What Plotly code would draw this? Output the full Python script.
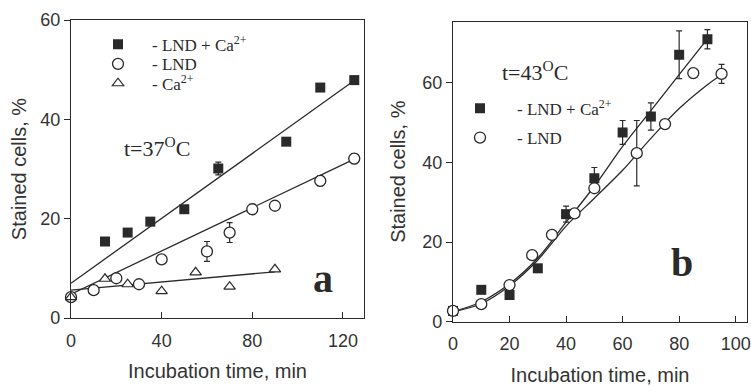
import plotly.graph_objects as go

# ---------------- Panel a (37 C) ----------------
a_sq_x = [15, 25, 35, 50, 65, 95, 110, 125]
a_sq_y = [15.4, 17.2, 19.4, 21.9, 30.1, 35.5, 46.4, 47.9]
a_sq_err = [0, 0, 0, 0, 1.3, 0, 0, 0]

a_ci_x = [0, 10, 20, 30, 40, 60, 70, 80, 90, 110, 125]
a_ci_y = [4.2, 5.6, 8.0, 6.8, 11.8, 13.4, 17.2, 21.9, 22.6, 27.6, 32.1]
a_ci_err = [0, 0, 0, 0, 0, 2.0, 2.0, 1.0, 0, 1.0, 1.0]

a_tr_x = [0, 15, 25, 40, 55, 70, 90]
a_tr_y = [4.2, 7.9, 6.8, 5.4, 9.2, 6.3, 9.8]

a_fit_sq_x = [0, 125]
a_fit_sq_y = [7.0, 47.8]
a_fit_ci_x = [0, 125]
a_fit_ci_y = [4.8, 32.0]
a_fit_tr_x = [0, 90]
a_fit_tr_y = [5.6, 9.3]

# ---------------- Panel b (43 C) ----------------
b_sq_x = [0, 10, 20, 30, 40, 50, 60, 70, 80, 90]
b_sq_y = [2.7, 8.0, 6.7, 13.4, 27.0, 36.0, 47.5, 51.5, 67.0, 70.9]
b_sq_err = [0, 0, 0, 0, 2.0, 2.7, 3.0, 3.4, 6.0, 2.4]

b_ci_x = [0, 10, 20, 28, 35, 43, 50, 65, 75, 85, 95]
b_ci_y = [2.7, 4.4, 9.2, 16.7, 21.8, 27.2, 33.5, 42.3, 49.6, 62.4, 62.2]
b_ci_err = [0, 0, 0, 0, 0, 0, 0, 8.2, 0, 0, 2.4]

b_fit_sq_x = [0, 10, 20, 30, 40, 50, 60, 70, 80, 90]
b_fit_sq_y = [2.5, 5.0, 9.5, 16.0, 25.0, 34.0, 44.0, 53.0, 62.0, 71.0]
b_fit_ci_x = [0, 10, 20, 30, 40, 50, 60, 70, 80, 90, 95]
b_fit_ci_y = [2.5, 4.5, 9.0, 15.5, 24.0, 31.0, 38.0, 46.0, 53.5, 59.5, 62.0]

INK = "#2a2a2a"
SERIF = "Liberation Serif, Times New Roman, serif"
SANS = "Liberation Sans, Arial, sans-serif"

fig = go.Figure()

def err(arr):
    return dict(type="data", array=arr, visible=True, color=INK, thickness=1.2, width=3)

SQ = dict(symbol="square", size=10, color=INK)
CI = dict(symbol="circle", size=11, color="white", line=dict(width=1.3, color=INK))
TR = dict(symbol="triangle-up", size=10, color="white", line=dict(width=1.2, color=INK))

# fits panel a
for fx, fy in [(a_fit_sq_x, a_fit_sq_y), (a_fit_ci_x, a_fit_ci_y), (a_fit_tr_x, a_fit_tr_y)]:
    fig.add_trace(go.Scatter(x=fx, y=fy, mode="lines", line=dict(color=INK, width=1.3),
                             showlegend=False, xaxis="x", yaxis="y", hoverinfo="skip"))
fig.add_trace(go.Scatter(x=a_sq_x, y=a_sq_y, mode="markers", name="- LND + Ca<sup>2+</sup>",
                         marker=SQ, error_y=err(a_sq_err), xaxis="x", yaxis="y",
                         legend="legend", cliponaxis=False))
fig.add_trace(go.Scatter(x=a_ci_x, y=a_ci_y, mode="markers", name="- LND",
                         marker=CI, error_y=err(a_ci_err), xaxis="x", yaxis="y",
                         legend="legend3", cliponaxis=False))
fig.add_trace(go.Scatter(x=a_tr_x, y=a_tr_y, mode="markers", name="- Ca<sup>2+</sup>",
                         marker=TR, xaxis="x", yaxis="y", legend="legend4", cliponaxis=False))

# fits panel b
for fx, fy in [(b_fit_sq_x, b_fit_sq_y), (b_fit_ci_x, b_fit_ci_y)]:
    fig.add_trace(go.Scatter(x=fx, y=fy, mode="lines", line=dict(color=INK, width=1.3, shape="spline"),
                             showlegend=False, xaxis="x2", yaxis="y2", hoverinfo="skip"))
fig.add_trace(go.Scatter(x=b_sq_x, y=b_sq_y, mode="markers", name="- LND + Ca<sup>2+</sup>",
                         marker=SQ, error_y=err(b_sq_err), xaxis="x2", yaxis="y2",
                         legend="legend2", cliponaxis=False))
fig.add_trace(go.Scatter(x=b_ci_x, y=b_ci_y, mode="markers", name="- LND",
                         marker=CI, error_y=err(b_ci_err), xaxis="x2", yaxis="y2",
                         legend="legend5", cliponaxis=False))

# page body margin is removed by the post script, so figure == viewport
W, H = 751, 386
def px(x): return x / W
def py(y): return 1 - y / H

TICKF = dict(family=SANS, size=18, color="#333")
TITLEF = dict(family=SANS, size=20, color="#333")
axis_common = dict(showline=True, linecolor=INK, linewidth=1.3, mirror=True, showgrid=False,
                   zeroline=False, tickcolor=INK, tickfont=TICKF, ticklabeloverflow="allow",
                   ticklen=6, tickwidth=1.2, automargin=False)

LEGF = dict(family=SERIF, size=17, color=INK)
def leg(xv, row_y, w):
    return dict(x=px(xv), y=py(row_y - 16), xanchor="left", yanchor="top",
                bgcolor="rgba(0,0,0,0)", font=LEGF, itemwidth=w)

fig.update_layout(
    template="none",
    width=W, height=H, margin=dict(l=0, r=0, t=0, b=0, pad=0),
    paper_bgcolor="white", plot_bgcolor="white",
    xaxis=dict(domain=[px(71), px(364)], range=[0, 129.3], anchor="y", ticks="inside",
               tickvals=[0, 40, 80, 120], ticklabelstandoff=6,
               title=dict(text="Incubation time, min", font=TITLEF, standoff=14),
               **axis_common),
    yaxis=dict(domain=[py(318), py(20)], range=[0, 60], anchor="x", ticks="outside",
               tickvals=[0, 20, 40, 60],
               title=dict(text="Stained cells, %", font=TITLEF, standoff=8),
               **axis_common),
    xaxis2=dict(domain=[px(453), px(747)], range=[0, 104], anchor="y2", ticks="inside",
                tickvals=[0, 20, 40, 60, 80, 100], ticklabelstandoff=6,
                title=dict(text="Incubation time, min", font=TITLEF, standoff=14),
                **axis_common),
    yaxis2=dict(domain=[py(321.7), py(21.7)], range=[0, 75.3], anchor="x2", ticks="outside",
                tickvals=[0, 20, 40, 60],
                title=dict(text="Stained cells, %", font=TITLEF, standoff=11),
                **axis_common),
    legend=leg(84, 42.7, 58),
    legend3=leg(84, 62.3, 58),
    legend4=leg(84, 81.7, 58),
    legend2=leg(443, 106.7, 64),
    legend5=leg(443, 136, 64),
    showlegend=True,
)

fig.add_annotation(text="t=37<sup>O</sup>C", x=px(122), y=py(147), xref="paper", yref="paper",
                   xanchor="left", yanchor="middle", showarrow=False,
                   font=dict(family=SERIF, size=22, color=INK))
fig.add_annotation(text="t=43<sup>O</sup>C", x=px(500), y=py(71), xref="paper", yref="paper",
                   xanchor="left", yanchor="middle", showarrow=False,
                   font=dict(family=SERIF, size=22, color=INK))
fig.add_annotation(text="<b>a</b>", x=px(323), y=py(278), xref="paper", yref="paper",
                   xanchor="center", yanchor="middle", showarrow=False,
                   font=dict(family=SERIF, size=40, color=INK))
fig.add_annotation(text="<b>b</b>", x=px(682), y=py(262), xref="paper", yref="paper",
                   xanchor="center", yanchor="middle", showarrow=False,
                   font=dict(family=SERIF, size=40, color=INK))

fig.write_html("out.html", config={"displayModeBar": False},
               post_script="document.body.style.margin='0px';")
